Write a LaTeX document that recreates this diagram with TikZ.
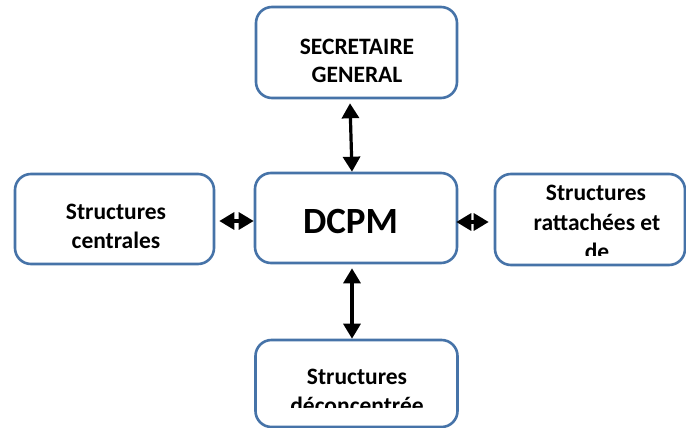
\documentclass[tikz,border=0pt]{standalone}
\usepackage{fontspec}
\setmainfont{Carlito}
\usepackage{xcolor}
\usepackage{tikz}
\usetikzlibrary{arrows.meta}
\definecolor{BoxBlue}{HTML}{4673A8}

\tikzset{
  orgbox/.style={draw=BoxBlue,line width=2.6pt,rounded corners=16pt,fill=white,inner sep=0pt},
  lbl/.style={font=\bfseries\fontsize{23.5}{28}\selectfont,anchor=base,inner sep=0pt},
  biglbl/.style={font=\bfseries\fontsize{37}{42}\selectfont,anchor=base,inner sep=0pt},
  link/.style={line width=3.2pt,{Triangle[length=15pt,width=17pt]}-{Triangle[length=15pt,width=17pt]}}
}

\begin{document}
\begin{tikzpicture}[x=1pt,y=-1pt]
  \useasboundingbox (0,0) rectangle (686,428);
  % boxes
  \node[orgbox,minimum width=201pt,minimum height=91pt] (sg) at (356.5,52.5) {};
  \node[orgbox,minimum width=202pt,minimum height=90pt] (dcpm) at (356,218) {};
  \node[orgbox,minimum width=199pt,minimum height=90pt] (centr) at (114.5,219) {};
  \node[orgbox,minimum width=190pt,minimum height=91pt] (ratt) at (590,219.5) {};
  \node[orgbox,minimum width=202pt,minimum height=87pt] (deconc) at (356.5,383.5) {};

  % labels
  \node[lbl] (sgA) at (357,55) {SECRETAIRE};
  \node[lbl] (sgB) at (357,83) {GENERAL};
  \node[biglbl] (dcpmT) at (350.5,233) {DCPM};
  \node[lbl] (centrA) at (116,219) {Structures};
  \node[lbl] (centrB) at (116,248) {centrales};
  \begin{scope}
    \clip (495,174) rectangle (686,255);
    \node[lbl] (rattA) at (596,200) {Structures};
    \node[lbl] (rattB) at (597,230) {rattachées et};
    \node[lbl] (rattC) at (597,259) {de};
  \end{scope}
  \begin{scope}
    \clip (255,340) rectangle (458,407);
    \node[lbl] (deconcA) at (357,384) {Structures};
    \node[lbl] (deconcB) at (357,413) {déconcentrée};
  \end{scope}

  % links
  \draw[link] ([xshift=-6.5pt,yshift=-4pt]sg.south) -- ([xshift=-4pt]dcpm.north);
  \draw[link] ([xshift=-4pt,yshift=-4pt]dcpm.south) -- ([xshift=-4.5pt]deconc.north);
  \draw[link] ([xshift=4pt,yshift=-2pt]centr.east) -- ([yshift=-3pt]dcpm.west);
  \draw[link] ([xshift=-2pt,yshift=-4pt]dcpm.east) -- ([xshift=-5pt,yshift=-2.5pt]ratt.west);
\end{tikzpicture}
\end{document}
